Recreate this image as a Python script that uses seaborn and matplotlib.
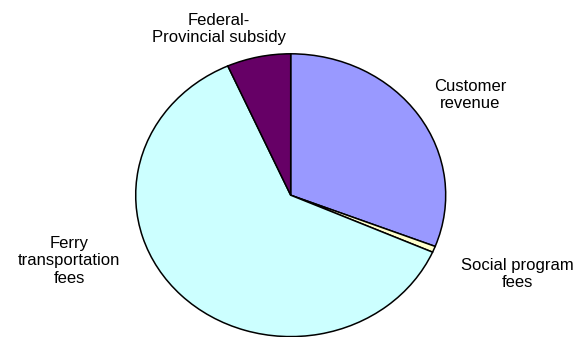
import matplotlib
matplotlib.use("Agg")
import matplotlib.pyplot as plt
import seaborn as sns

categories = ["Customer revenue", "Social program fees", "Ferry transportation fees",
              "Federal-Provincial subsidy"]
shares = [30.9, 0.7, 61.75, 6.65]
colors = ["#9999FF", "#FFFFCC", "#CCFFFF", "#660066"]
label_texts = ["Customer\nrevenue", "Social program\nfees", "Ferry\ntransportation\nfees",
               "Federal-\nProvincial subsidy"]
label_pos_px = [(470, 95), (517, 274), (69, 261), (219, 29)]

sns.set_theme(style="white")
plt.rcParams['font.family'] = ['Liberation Sans', 'DejaVu Sans']

W, H = 581, 337
fig = plt.figure(figsize=(W / 100, H / 100), dpi=100)
fig.patch.set_facecolor("white")

cx, cy = 290.7, 195.2
rx, ry = 155.0, 141.4
pad = 1.02
ax = fig.add_axes([(cx - rx * pad) / W, (H - cy - ry * pad) / H,
                   2 * rx * pad / W, 2 * ry * pad / H])
ax.pie(shares, colors=colors, startangle=90, counterclock=False, radius=1.0,
       wedgeprops=dict(edgecolor="black", linewidth=1.1))
ax.set_aspect("auto")
ax.set_xlim(-pad, pad)
ax.set_ylim(-pad, pad)
ax.axis("off")

for txt, (px, py) in zip(label_texts, label_pos_px):
    fig.text(px / W, 1 - py / H, txt, ha="center", va="center", fontsize=12,
             color="black", linespacing=1.2, multialignment="center")

fig.savefig("out.png", dpi=100, facecolor="white")
